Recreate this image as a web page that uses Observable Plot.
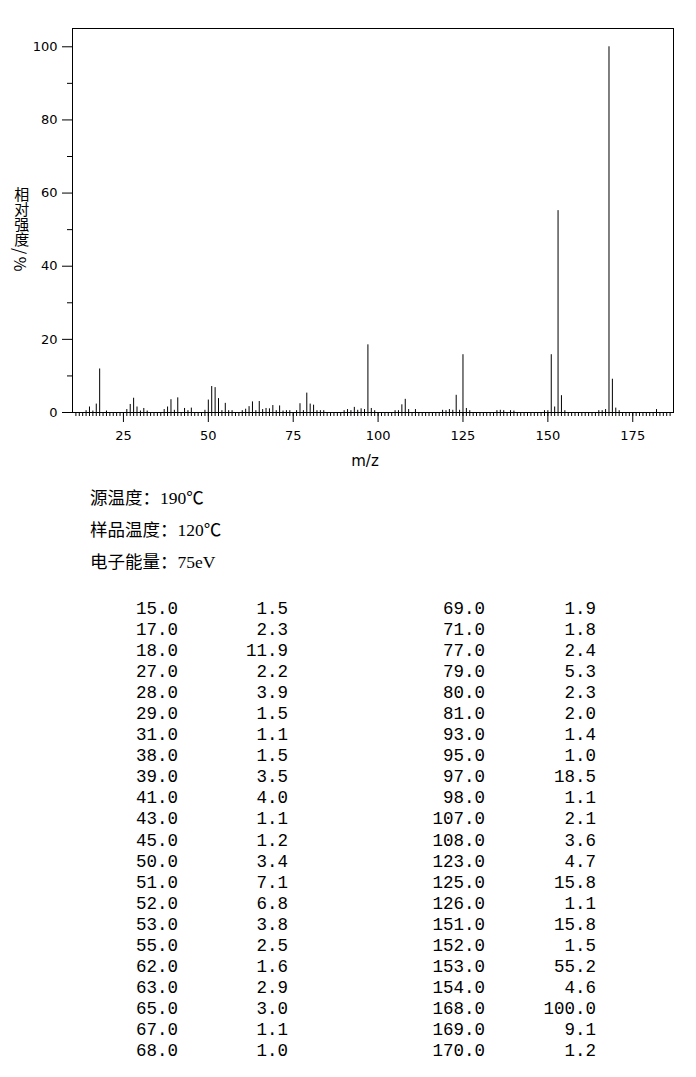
<!DOCTYPE html>
<html><head><meta charset="utf-8">
<script src="https://cdn.jsdelivr.net/npm/d3@7"></script>
<script src="https://cdn.jsdelivr.net/npm/@observablehq/plot@0.6"></script>
<style>
body{margin:0;background:#fff;}
#wrap{position:relative;width:696px;height:1077px;overflow:hidden;}
#chart{position:absolute;left:0;top:0;}
#ylabel{position:absolute;left:13.3px;top:186.5px;writing-mode:vertical-rl;font:15px "Noto Sans CJK SC",sans-serif;line-height:15px;white-space:nowrap;color:#000;}
#ylabel .unit{font-size:16px;letter-spacing:2.5px;margin-top:1px;}
#params{position:absolute;left:90px;top:481.6px;font:17.5px "Liberation Serif","Noto Sans CJK SC",serif;line-height:32px;white-space:nowrap;color:#000;}
.col{position:absolute;left:0;top:599px;font:17.5px "Liberation Mono",monospace;line-height:21.05px;text-align:right;white-space:pre;color:#000;}
</style></head><body>
<div id="wrap"><div id="chart"></div><div id="ylabel"></div><div id="params"></div><div id="table"></div></div>
<script>
// Listed peaks (m/z, relative intensity %)
const tableMz = [15,17,18,27,28,29,31,38,39,41,43,45,50,51,52,53,55,62,63,65,67,68,
                 69,71,77,79,80,81,93,95,97,98,107,108,123,125,126,151,152,153,154,168,169,170];
const tableInt = [1.5,2.3,11.9,2.2,3.9,1.5,1.1,1.5,3.5,4.0,1.1,1.2,3.4,7.1,6.8,3.8,2.5,1.6,2.9,3.0,1.1,1.0,
                  1.9,1.8,2.4,5.3,2.3,2.0,1.4,1.0,18.5,1.1,2.1,3.6,4.7,15.8,1.1,15.8,1.5,55.2,4.6,100.0,9.1,1.2];
// Small peaks visible in the spectrum but not listed (estimated)
const minorMz = [14,16,20,26,30,32,37,40,44,49,54,56,57,60,61,64,66,70,72,73,74,76,78,82,83,84,
                 90,91,92,94,96,99,105,106,109,111,119,120,121,122,124,127,135,136,137,139,140,
                 149,150,155,165,166,167,171,182];
const minorInt = [0.5,0.4,0.4,0.8,0.4,0.4,0.8,0.6,0.5,0.6,0.5,0.5,0.5,0.5,0.9,0.5,0.8,0.5,0.4,0.5,0.5,0.5,0.5,0.5,0.5,0.5,
                  0.5,0.8,0.5,0.6,0.8,0.5,0.5,0.5,0.8,0.8,0.6,0.5,0.8,0.6,0.6,0.5,0.5,0.6,0.5,0.5,0.4,
                  0.5,0.5,0.5,0.5,0.5,0.8,0.5,0.8];
const xMajorTicks = [25,50,75,100,125,150,175];
const xMinorTicks = d3.range(11, 187);
const yMajorTicks = [0,20,40,60,80,100];
const yMinorTicks = [10,30,50,70,90];
const xLabel = "m/z";
const yLabelText = "相对强度";
const yLabelUnit = "/%";
const paramLines = ["源温度：190℃","样品温度：120℃","电子能量：75eV"];

const peaks = tableMz.map((m,i)=>({mz:m, intensity:tableInt[i]}))
  .concat(minorMz.map((m,i)=>({mz:m, intensity:minorInt[i]})));

const plot = Plot.plot({
  width: 696, height: 475,
  marginLeft: 72, marginRight: 23, marginTop: 28, marginBottom: 63,
  style: {fontFamily: "DejaVu Sans", fontSize: "13px", color: "#000", background: "#fff"},
  x: {domain: [10, 187]},
  y: {domain: [0, 105]},
  marks: [
    Plot.frame({stroke: "#000"}),
    Plot.ruleX(peaks, {x: "mz", y1: 0, y2: "intensity", stroke: "#000", strokeWidth: 1}),
    Plot.axisX(xMinorTicks, {tickSize: 4, tickFormat: () => "", label: null}),
    Plot.axisX(xMajorTicks, {tickSize: 10, tickPadding: 8, label: null}),
    Plot.axisY(yMinorTicks, {tickSize: 5, tickFormat: () => "", label: null}),
    Plot.axisY(yMajorTicks, {tickSize: 10, tickPadding: 5, label: null})
  ]
});
const svg = d3.select(plot);
svg.append("text")
  .attr("x", 365).attr("y", 466)
  .attr("text-anchor", "middle")
  .style("font-family", "DejaVu Sans").style("font-size", "15px").attr("fill", "#000")
  .text(xLabel);
document.getElementById("chart").appendChild(plot);
const yl = document.getElementById("ylabel");
yl.appendChild(document.createTextNode(yLabelText));
const unit = document.createElement("span");
unit.className = "unit";
unit.textContent = yLabelUnit;
yl.appendChild(unit);

document.getElementById("params").innerHTML = paramLines.map(s => `<div>${s}</div>`).join("");

const half = 22;
const cols = [
  {right: 178, vals: tableMz.slice(0, half)},
  {right: 288, vals: tableInt.slice(0, half)},
  {right: 485, vals: tableMz.slice(half)},
  {right: 596, vals: tableInt.slice(half)}
];
const tbl = document.getElementById("table");
cols.forEach(c => {
  const d = document.createElement("div");
  d.className = "col";
  d.style.width = c.right + "px";
  d.textContent = c.vals.map(v => v.toFixed(1)).join("\n");
  tbl.appendChild(d);
});
</script>
</body></html>
